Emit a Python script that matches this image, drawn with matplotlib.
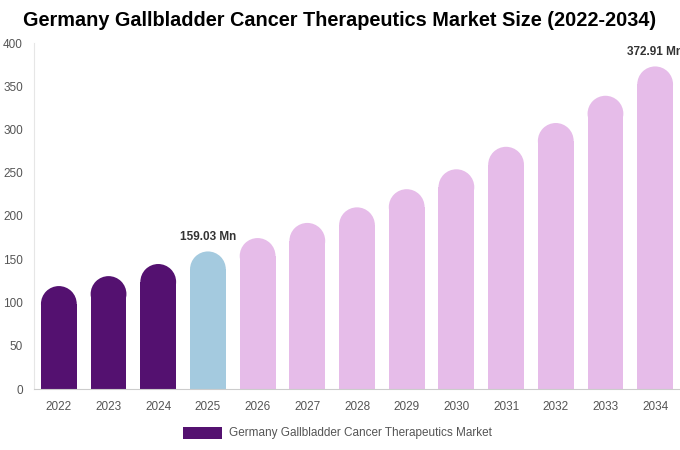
import numpy as np
from matplotlib import pyplot as plt
from matplotlib.patches import Ellipse, Rectangle

years = ["2022", "2023", "2024", "2025", "2026", "2027", "2028", "2029", "2030", "2031", "2032", "2033", "2034"]
values = [119.0, 130.5, 144.5, 159.03, 174.5, 192.0, 210.0, 231.0, 254.0, 280.0, 307.5, 339.0, 372.91]
labels = {3: "159.03 Mn", 12: "372.91 Mn"}
colors = ["#541170"] * 3 + ["#a4cadf"] + ["#e6bce9"] * 9
series_name = "Germany Gallbladder Cancer Therapeutics Market"

plt.rcParams["font.family"] = ["Liberation Sans", "DejaVu Sans"]

fig = plt.figure(figsize=(6.8, 4.5), dpi=100)
ax = fig.add_axes([34 / 680, 1 - 389 / 450, 646 / 680, 346 / 450])
ax.set_xlim(-0.5, len(years) - 0.5)
ax.set_ylim(0, 400)

w = 0.72
# pixel scale to make round caps
px_x = 646 / len(years)
px_y = 346 / 400
r_px = w * px_x / 2
r_y = r_px / px_y
for i, v in enumerate(values):
    ax.add_patch(Rectangle((i - w / 2, 0), w, v - r_y, color=colors[i], lw=0))
    ax.add_patch(Ellipse((i, v - r_y), w, 2 * r_y, color=colors[i], lw=0))
    if i in labels:
        ax.text(i, v + 10, labels[i], ha="center", va="bottom", fontsize=8.5,
                fontweight="bold", color="#333333", clip_on=False)

ax.set_xticks(range(len(years)), years)
ax.set_yticks(range(0, 401, 50))
ax.tick_params(length=0, colors="#555555", labelsize=8.5)
ax.tick_params(axis="x", pad=9)
ax.tick_params(axis="y", pad=8)
for s in ["top", "right"]:
    ax.spines[s].set_visible(False)
ax.spines["left"].set_color("#e6e6e6")
ax.spines["bottom"].set_color("#cccccc")

fig.text(0.5, 1 - 21 / 450, "Germany Gallbladder Cancer Therapeutics Market Size (2022-2034)",
         ha="center", va="center", fontsize=14.3, fontweight="bold", color="#000000")

fig.patches.append(Rectangle((183 / 680, 1 - 439 / 450), 39 / 680, 12 / 450,
                             transform=fig.transFigure, color=colors[0], lw=0))
fig.text(229 / 680, 1 - 433 / 450, series_name, ha="left", va="center", fontsize=8.5, color="#555555")

fig.savefig("out.png", dpi=100)
